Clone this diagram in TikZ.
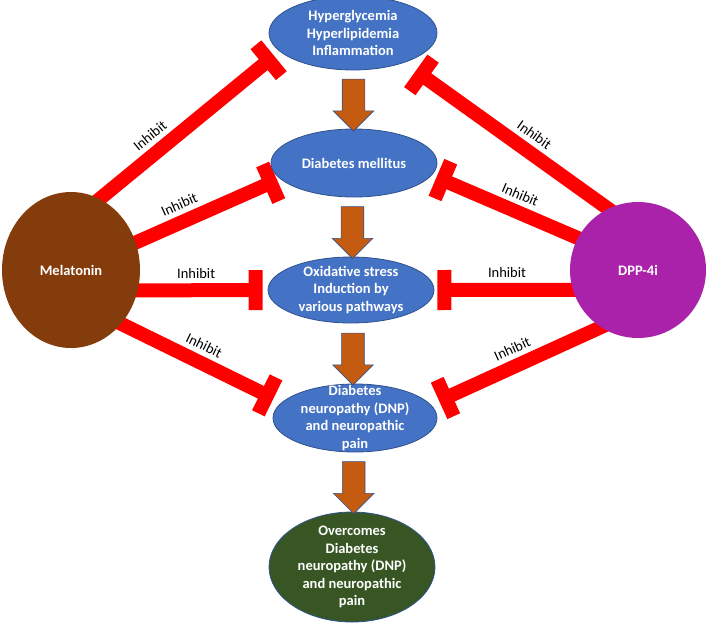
\documentclass[tikz,border=0pt]{standalone}
\usepackage{fontspec}
\setmainfont{Carlito}
\usetikzlibrary{arrows.meta,shapes.geometric,shapes.arrows,backgrounds}

\definecolor{boxblue}{HTML}{4472C4}
\definecolor{boxline}{HTML}{2F528F}
\definecolor{melbrown}{HTML}{843C0C}
\definecolor{dpppurple}{RGB}{170,34,170}
\definecolor{endgreen}{HTML}{375623}
\definecolor{flowfill}{HTML}{C55A11}

\begin{document}
\begin{tikzpicture}[x=1pt,y=-1pt,
    bubble/.style={ellipse,minimum width=166pt,minimum height=68pt,inner sep=0pt,fill=boxblue,draw=boxline,line width=0.8pt},
    bubbletext/.style={text=white,font=\fontsize{14.5}{17.5}\selectfont\bfseries,align=center},
    flow/.style={single arrow,shape border rotate=270,single arrow head extend=9pt,inner sep=11pt,minimum height=52pt,fill=flowfill,draw=boxline,line width=0.6pt},
    inhibit/.style={line width=14pt,draw=red,shorten <=-6pt,-{Bar[width=40pt]}},
    lab/.style={sloped,above=5pt,inner sep=0pt,font=\fontsize{14.5}{17.5}\selectfont}]

    \useasboundingbox (0,0) rectangle (706,629);

    \node[bubble,minimum width=168pt,minimum height=74pt,label={[bubbletext]center:Hyperglycemia\\Hyperlipidemia\\Inflammation}] (hyp) at (353,33) {};
    \node[bubble,label={[bubbletext]center:Diabetes mellitus}] (dm) at (354,163) {};
    \node[bubble,minimum height=66pt,label={[bubbletext]center:Oxidative stress\\Induction by\\various pathways}] (ox) at (351,290) {};
    \node[bubble,minimum width=164pt,label={[bubbletext]center:Diabetes\\neuropathy (DNP)\\and neuropathic\\pain}] (dnp) at (355,418) {};
    \node[bubble,fill=endgreen,minimum height=110pt,label={[bubbletext]center:Overcomes\\Diabetes\\neuropathy (DNP)\\and neuropathic\\pain}] (cure) at (352,567) {};

    \node[ellipse,fill=melbrown,minimum width=138pt,minimum height=156pt,inner sep=0pt,label={[bubbletext]center:Melatonin}] (mel) at (71,270) {};
    \node[circle,fill=dpppurple,minimum size=136pt,inner sep=0pt,label={[bubbletext]center:DPP-4i}] (dpp) at (638,270) {};

    \path (hyp) -- (dm) node[flow,midway] {};
    \path (dm) -- (ox) node[flow,midway] {};
    \path (ox) -- (dnp) node[flow,midway] {};
    \path (dnp) -- (cure) node[flow,midway] {};

    \begin{pgfonlayer}{background}
        \draw[inhibit,shorten >=7pt] (mel.68) -- (hyp.194) node[lab,pos=0.34] {Inhibit};
        \draw[inhibit,shorten >=3pt] (mel.23) -- (dm.192) node[lab,pos=0.35] {Inhibit};
        \draw[inhibit,shorten >=5pt] (mel.-17) -- (ox.180) node[lab,pos=0.45] {Inhibit};
        \draw[inhibit,shorten >=9pt] (mel.-47) -- (dnp.168) node[lab,pos=0.47] {Inhibit};

        \draw[inhibit,shorten >=14pt] (dpp.116) -- (hyp.-30) node[lab,pos=0.41] {Inhibit};
        \draw[inhibit,shorten >=5pt] (dpp.152) -- (dm.-9) node[lab,pos=0.44] {Inhibit};
        \draw[inhibit,shorten >=3pt] (dpp.197) -- (ox.0) node[lab,pos=0.475] {Inhibit};
        \draw[inhibit,shorten >=9pt] (dpp.237) -- (dnp.10) node[lab,pos=0.48] {Inhibit};
    \end{pgfonlayer}

\end{tikzpicture}
\end{document}
